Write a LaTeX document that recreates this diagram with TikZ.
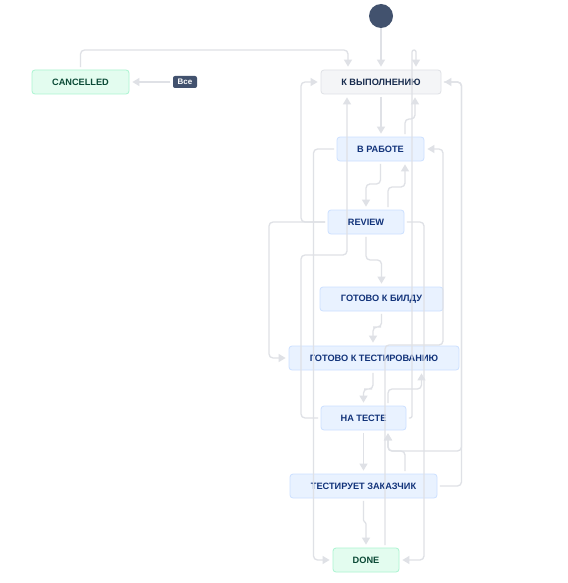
\documentclass[tikz,border=0pt]{standalone}
\usepackage{fontspec}
\setmainfont{Liberation Sans}
\usetikzlibrary{arrows.meta,calc}
\definecolor{linec}{HTML}{DFE1E6}
\definecolor{grayB}{HTML}{DFE1E6}
\definecolor{grayF}{HTML}{F4F5F7}
\definecolor{grayT}{HTML}{172B4D}
\definecolor{blueB}{HTML}{CCE0FF}
\definecolor{blueF}{HTML}{E9F2FF}
\definecolor{blueT}{HTML}{12337A}
\definecolor{greenB}{HTML}{ABF5D1}
\definecolor{greenF}{HTML}{E3FCEF}
\definecolor{greenT}{HTML}{0B4A36}
\definecolor{slate}{HTML}{42526E}
\begin{document}
\begin{tikzpicture}[x=1pt,y=-1pt,
  box/.style={rounded corners=3pt, line width=0.8pt, minimum height=24pt, inner sep=0pt,
              font=\fontsize{9.2}{10}\selectfont\bfseries},
  graybox/.style={box, draw=grayB, fill=grayF, text=grayT},
  bluebox/.style={box, draw=blueB, fill=blueF, text=blueT},
  greenbox/.style={box, draw=greenB, fill=greenF, text=greenT},
  conn/.style={draw=linec, line width=1.3pt, rounded corners=4pt, shorten <=2.5pt},
  arr/.style={conn, -{Triangle[width=8pt,length=7pt]}, shorten >=3pt},
  tight/.style={rounded corners=2pt},
  jog/.style={rounded corners=1pt}
]
\fill[white] (0,0) rectangle (567,583);
\useasboundingbox (0,0) rectangle (567,583);

% nodes
\node[circle, fill=slate, minimum size=24pt, inner sep=0pt] (start) at (381,16) {};
\node[greenbox, minimum width=97pt] (cancel) at (80.5,82) {CANCELLED};
\node[fill=slate, text=white, rounded corners=2pt, minimum width=24pt, minimum height=12pt, inner sep=0pt,
      font=\fontsize{8}{9}\selectfont\bfseries] (vse) at (185,82) {Все};
\node[graybox, minimum width=120pt] (todo) at (381,82) {К ВЫПОЛНЕНИЮ};
\node[bluebox, minimum width=87pt] (inprog) at (380.5,149) {В РАБОТЕ};
\node[bluebox, minimum width=76pt] (review) at (366,222) {REVIEW};
\node[bluebox, minimum width=123pt] (build) at (381.5,299) {ГОТОВО К БИЛДУ};
\node[bluebox, minimum width=170pt] (readytest) at (374,358) {ГОТОВО К ТЕСТИРОВАНИЮ};
\node[bluebox, minimum width=85pt] (testing) at (363.5,418) {НА ТЕСТЕ};
\node[bluebox, minimum width=147pt] (cust) at (363.5,486) {ТЕСТИРУЕТ ЗАКАЗЧИК};
\node[greenbox, minimum width=66pt] (done) at (366,560) {DONE};

% connectors
\draw[arr, shorten <=0pt] (start.south) -- (todo.north);
\draw[arr] (cancel.north) -- (80.5,50) -| ($(todo.north)+(-33,0)$);
\draw[arr] (vse.west) -- (cancel.east);
\draw[arr] (todo.south) -- (todo.south |- inprog.north);
\draw[arr] ($(inprog.north)+(24.5,0)$) -- (405,119) -- (415,119) -- ($(todo.south)+(34,0)$);
\draw[arr] (inprog.south) |- (373,184) -| (review.north);
\draw[arr] ($(review.north)+(22,0)$) |- (396,187) -| ($(inprog.south)+(24.5,0)$);
\draw[arr] (review.west) -- (301,222) |- (todo.west);
\draw[arr] (review.west) -- (269,222) |- (readytest.west);
\draw[arr] (review.south) |- (374,260) -| (build.north);
\draw[arr] (review.east) -- (424,222) |- (done.east);
\draw[arr] (testing.west) -- (301,418) |- (320,255) -| ($(todo.south)+(-34,0)$);
\draw[arr] (inprog.west) -- (313.5,149) |- (done.west);
\draw[arr] (build.south) |- (377,327) -| ($(readytest.north)+(-1,0)$);
\draw[arr] ($(readytest.south)+(-1,0)$) |- (368,389) -| (testing.north);
\draw[arr] ($(testing.north)+(24.5,0)$) |- (405,389) -| ($(readytest.south)+(47.5,0)$);
\draw[arr, tight] (testing.east) -- (412,418) -- (412,50) -- (416,50) -- ($(todo.north)+(35,0)$);
\draw[arr] ($(done.north)+(19,0)$) -- (385,345) -- (443,345) |- (inprog.east);
\draw[arr] (cust.east) -- (461.5,486) |- (todo.east);
\draw[arr] ($(cust.north)+(41.5,0)$) |- (396,451) -| ($(testing.south)+(24.5,0)$);
\draw[arr] (todo.east) -- (461.5,82) |- (400,451) -| ($(testing.south)+(24.5,0)$);
\draw[arr] (testing.south) -- (cust.north);
\draw[arr, jog] (cust.south) -- (363.5,521) -- (366,523) -- (done.north);
\end{tikzpicture}
\end{document}
